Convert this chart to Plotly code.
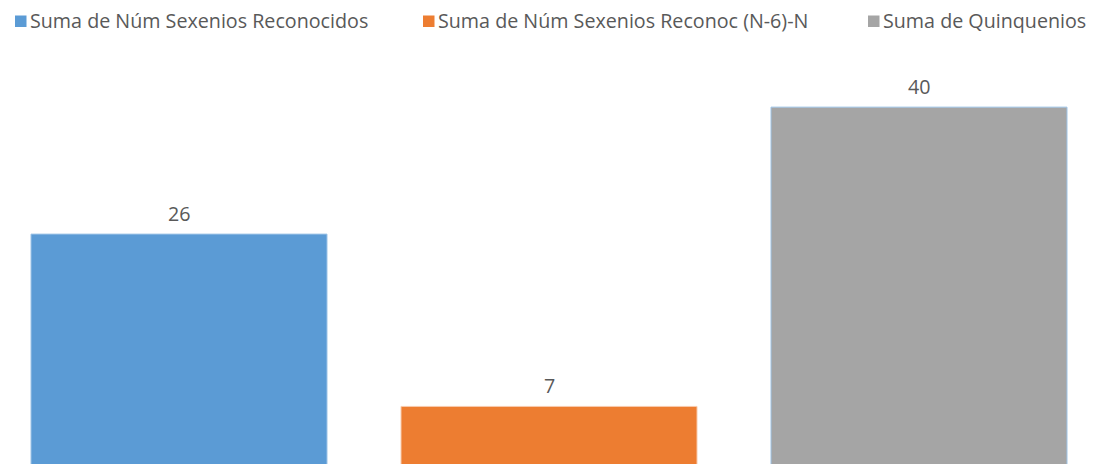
import plotly.graph_objects as go

series_names = [
    "Suma de Núm Sexenios Reconocidos",
    "Suma de Núm Sexenios Reconoc (N-6)-N",
    "Suma de Quinquenios",
]
values = [26, 7, 40]
positions = [0, 1, 2]
colors = ["#5B9BD5", "#ED7D31", "#A5A5A5"]
edge_colors = ["#9DC3E6", "#F8CBAD", "#9DC3E6"]

# page body adds an 8px margin, so the figure is sized to fit the 1096x464 window
W, H = 1088, 456
PLOT_TOP = 42
plot_h = H - PLOT_TOP
font_family = "Open Sans, Liberation Sans, sans-serif"
text_color = "#595959"
FS = 19.7

fig = go.Figure()
for name, v, p, c, ec in zip(series_names, values, positions, colors, edge_colors):
    fig.add_trace(go.Bar(
        x=[p], y=[v], name=name, width=0.8,
        marker=dict(color=c, line=dict(color=ec, width=1)),
        showlegend=False,
    ))
    fig.add_annotation(
        x=p, y=v, xref="x", yref="y", text=str(v), showarrow=False,
        yanchor="middle", yshift=21,
        font=dict(family=font_family, size=FS, color=text_color),
    )

# legend drawn manually (clipped at the right edge like the reference)
legend_sq_x = [7, 415, 860]
SQ = 11.5
for name, lx, c in zip(series_names, legend_sq_x, colors):
    fig.add_shape(
        type="rect", xref="paper", yref="paper",
        x0=lx / W, x1=(lx + SQ) / W,
        y0=(H - 19) / plot_h, y1=(H - 7.5) / plot_h,
        fillcolor=c, line=dict(width=0),
    )
    fig.add_annotation(
        x=(lx + 13) / W, y=(H - 13) / plot_h, xref="paper", yref="paper",
        text=name, showarrow=False, xanchor="left", yanchor="middle",
        font=dict(family=font_family, size=FS, color=text_color),
    )

x0 = -171 / 370
x1 = (W - 171) / 370
fig.update_layout(
    width=W, height=H,
    margin=dict(l=0, r=0, t=PLOT_TOP, b=0),
    paper_bgcolor="white", plot_bgcolor="white",
    xaxis=dict(range=[x0, x1], showticklabels=False, showgrid=False,
               zeroline=False, showline=False, ticks=""),
    yaxis=dict(range=[0.65, 46.3], showticklabels=False, showgrid=False,
               zeroline=False, showline=False, ticks=""),
    barmode="overlay",
)

fig.write_html("out.html")
